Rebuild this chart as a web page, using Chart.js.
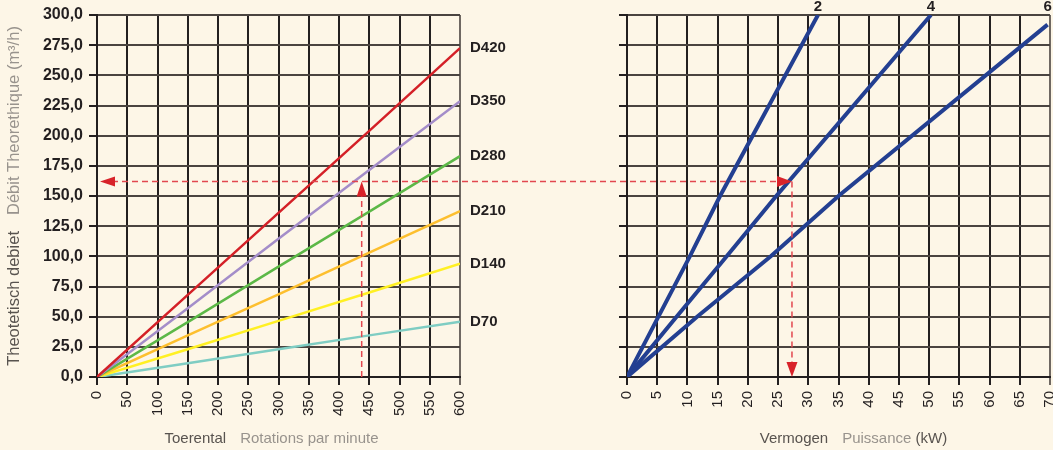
<!DOCTYPE html>
<html>
<head>
<meta charset="utf-8">
<script src="https://cdn.jsdelivr.net/npm/chart.js@4/dist/chart.umd.min.js"></script>
<style>
  html, body { margin: 0; padding: 0; background: #fdf6e7; }
  #wrap { position: relative; width: 1053px; height: 450px; overflow: hidden; }
  canvas { position: absolute; top: 0; }
  #left { left: 0; }
  #right { left: 530px; }
</style>
</head>
<body>
<div id="wrap">
  <canvas id="left" width="530" height="450"></canvas>
  <canvas id="right" width="523" height="450"></canvas>
</div>
<script>
// left chart: flow (m3/h) against rpm, one line per pump size
const rpm = [0, 150, 300, 450, 600];
const pumpNames = ["D420", "D350", "D280", "D210", "D140", "D70"];
const flowD420 = [0, 68, 136, 204, 272.5];
const flowD350 = [0, 57, 114.5, 171.5, 228.5];
const flowD280 = [0, 45.5, 91.5, 137, 183];
const flowD210 = [0, 34.5, 68.5, 103, 137.5];
const flowD140 = [0, 23, 46.5, 70, 94];
const flowD70 = [0, 11.4, 23, 34.5, 45.8];

// right chart: power (kW) against flow, one line per pressure
const pressureNames = ["2", "4", "6"];
const flowP2 = [0, 50, 100, 150, 300];
const powerP2 = [0, 5.2, 10.4, 15.4, 31.6];
const flowP4 = [0, 50, 100, 150, 300];
const powerP4 = [0, 8.2, 16.5, 24.7, 50.3];
const flowP6 = [0, 50, 100, 150, 292];
const powerP6 = [0, 11.6, 23.8, 35, 69.6];

// reading example drawn with the dashed arrows
const readRpm = 437.5;
const readFlow = 162;
const readPower = 27.3;

const pumpColors = ["#d42027", "#a48dc9", "#5cb847", "#fdbf2e", "#fff023", "#7fcdc3"];
const blue = "#233f91";
const dashRed = "#e2474f";
const headRed = "#d8232a";
const ink = "#231f20";
const dark = "#58534f";
const light = "#98938d";
const font = "'Liberation Sans', Arial, Helvetica, sans-serif";

const zip = (xs, ys) => xs.map((x, i) => ({ x, y: ys[i] }));

function arrowHead(ctx, x, y, dir, len, half) {
  ctx.beginPath();
  ctx.moveTo(x, y);
  if (dir === "left") { ctx.lineTo(x + len, y - half); ctx.lineTo(x + len, y + half); }
  if (dir === "right") { ctx.lineTo(x - len, y - half); ctx.lineTo(x - len, y + half); }
  if (dir === "up") { ctx.lineTo(x - half, y + len); ctx.lineTo(x + half, y + len); }
  if (dir === "down") { ctx.lineTo(x - half, y - len); ctx.lineTo(x + half, y - len); }
  ctx.closePath();
  ctx.fill();
}

// draws a title made of differently coloured parts, centred on (cx, cy)
function partsText(ctx, parts, cx, cy, rotate, size) {
  ctx.save();
  ctx.font = size + "px " + font;
  ctx.textBaseline = "middle";
  ctx.textAlign = "left";
  const total = parts.reduce((s, p) => s + (p[0] ? ctx.measureText(p[0]).width : p[2]), 0);
  ctx.translate(cx, cy);
  if (rotate) ctx.rotate(-Math.PI / 2);
  let x = -total / 2;
  parts.forEach(([txt, color, gap]) => {
    if (!txt) { x += gap; return; }
    ctx.fillStyle = color;
    ctx.fillText(txt, x, 0);
    x += ctx.measureText(txt).width;
  });
  ctx.restore();
}

function fixAxis(size, vertical) {
  return (scale) => {
    if (vertical) scale.width = size; else scale.height = size;
    scale.paddingLeft = 0; scale.paddingRight = 0;
    scale.paddingTop = 0; scale.paddingBottom = 0;
  };
}

function flowAxis(showLabels) {
  return {
    type: "linear",
    min: 0, max: 300,
    afterFit: fixAxis(97, true),
    border: { color: ink, width: 2 },
    grid: { color: "#4a4440", lineWidth: 2, tickLength: 8, tickColor: ink },
    ticks: {
      display: showLabels,
      stepSize: 25,
      padding: 6,
      color: ink,
      font: { family: font, size: 16, weight: "bold" },
      callback: (v) => v.toFixed(1).replace(".", ",")
    }
  };
}

function bottomAxis(max, step) {
  return {
    type: "linear",
    min: 0, max: max,
    afterFit: fixAxis(73, false),
    border: { color: ink, width: 2 },
    grid: {
      lineWidth: 2, tickLength: 8,
      color: (c) => (c.tick && c.tick.value === max ? "#6f6862" : ink),
      tickColor: (c) => (c.tick && c.tick.value === max ? "#6f6862" : ink)
    },
    ticks: {
      stepSize: step,
      autoSkip: false,
      minRotation: 90, maxRotation: 90,
      padding: 6,
      color: ink,
      font: { family: font, size: 15 }
    }
  };
}

const leftDecor = {
  id: "leftDecor",
  afterDatasetsDraw(chart) {
    const { ctx, chartArea } = chart;
    const xs = chart.scales.x, ys = chart.scales.y;
    ctx.save();
    // pump size names at line ends
    ctx.font = "bold 15px " + font;
    ctx.fillStyle = ink;
    ctx.textBaseline = "middle";
    chart.data.datasets.forEach((ds, i) => {
      const pts = chart.getDatasetMeta(i).data;
      ctx.fillText(ds.label, chartArea.right + 10, pts[pts.length - 1].y);
    });
    // reading arrows
    const yF = ys.getPixelForValue(readFlow);
    const xTip = xs.getPixelForValue(0) + 3;
    const xR = xs.getPixelForValue(readRpm);
    ctx.strokeStyle = dashRed;
    ctx.lineWidth = 1.5;
    ctx.setLineDash([6, 4]);
    ctx.beginPath();
    ctx.moveTo(xTip + 12, yF);
    ctx.lineTo(chart.width, yF);
    ctx.moveTo(xR, ys.getPixelForValue(0));
    ctx.lineTo(xR, yF + 12);
    ctx.stroke();
    ctx.setLineDash([]);
    ctx.fillStyle = headRed;
    arrowHead(ctx, xTip, yF, "left", 15, 5);
    arrowHead(ctx, xR, yF, "up", 15, 5);
    ctx.restore();
  },
  afterDraw(chart) {
    const { ctx, chartArea } = chart;
    partsText(ctx, [["Theotetisch debiet", dark], [null, null, 16],
      ["Débit Theorethique (m³/h)", light]], 14, (chartArea.top + chartArea.bottom) / 2, true, 16.5);
    partsText(ctx, [["Toerental", dark], [null, null, 14],
      ["Rotations par minute", light]], (chartArea.left + chartArea.right) / 2 - 7, 439, false, 15);
  }
};

const rightDecor = {
  id: "rightDecor",
  afterDatasetsDraw(chart) {
    const { ctx, chartArea } = chart;
    const xs = chart.scales.x, ys = chart.scales.y;
    ctx.save();
    ctx.font = "bold 15px " + font;
    ctx.fillStyle = ink;
    ctx.textAlign = "center";
    ctx.textBaseline = "bottom";
    chart.data.datasets.forEach((ds, i) => {
      const pts = chart.getDatasetMeta(i).data;
      ctx.fillText(ds.label, pts[pts.length - 1].x, chartArea.top - 1);
    });
    const yF = ys.getPixelForValue(readFlow);
    const xP = xs.getPixelForValue(readPower);
    ctx.strokeStyle = dashRed;
    ctx.lineWidth = 1.5;
    ctx.setLineDash([6, 4]);
    ctx.beginPath();
    ctx.moveTo(0, yF);
    ctx.lineTo(xP - 12, yF);
    ctx.moveTo(xP, yF);
    ctx.lineTo(xP, ys.getPixelForValue(0) - 12);
    ctx.stroke();
    ctx.setLineDash([]);
    ctx.fillStyle = headRed;
    arrowHead(ctx, xP, yF, "right", 15, 5.5);
    arrowHead(ctx, xP, ys.getPixelForValue(0), "down", 15, 5.5);
    ctx.restore();
  },
  afterDraw(chart) {
    const { ctx, chartArea } = chart;
    partsText(ctx, [["Vermogen", dark], [null, null, 14], ["Puissance ", light],
      ["(kW)", dark]], (chartArea.left + chartArea.right) / 2 + 15, 439, false, 15);
  }
};

const pumpFlows = [flowD420, flowD350, flowD280, flowD210, flowD140, flowD70];

new Chart(document.getElementById("left"), {
  type: "line",
  data: {
    datasets: pumpNames.map((name, i) => ({
      label: name,
      data: zip(rpm, pumpFlows[i]),
      borderColor: pumpColors[i],
      borderWidth: 2.5,
      pointRadius: 0,
      tension: 0
    }))
  },
  options: {
    responsive: false,
    animation: false,
    layout: { padding: { top: 15, right: 70, bottom: 0, left: 0 } },
    plugins: { legend: { display: false }, tooltip: { enabled: false } },
    scales: { x: bottomAxis(600, 50), y: flowAxis(true) }
  },
  plugins: [leftDecor]
});

const pressureFlows = [flowP2, flowP4, flowP6];
const pressurePowers = [powerP2, powerP4, powerP6];

new Chart(document.getElementById("right"), {
  type: "line",
  data: {
    datasets: pressureNames.map((name, i) => ({
      label: name,
      data: zip(pressurePowers[i], pressureFlows[i]),
      borderColor: blue,
      borderWidth: 4,
      pointRadius: 0,
      tension: 0
    }))
  },
  options: {
    responsive: false,
    animation: false,
    layout: { padding: { top: 15, right: 3, bottom: 0, left: 0 } },
    plugins: { legend: { display: false }, tooltip: { enabled: false } },
    scales: { x: bottomAxis(70, 5), y: flowAxis(false) }
  },
  plugins: [rightDecor]
});
</script>
</body>
</html>
